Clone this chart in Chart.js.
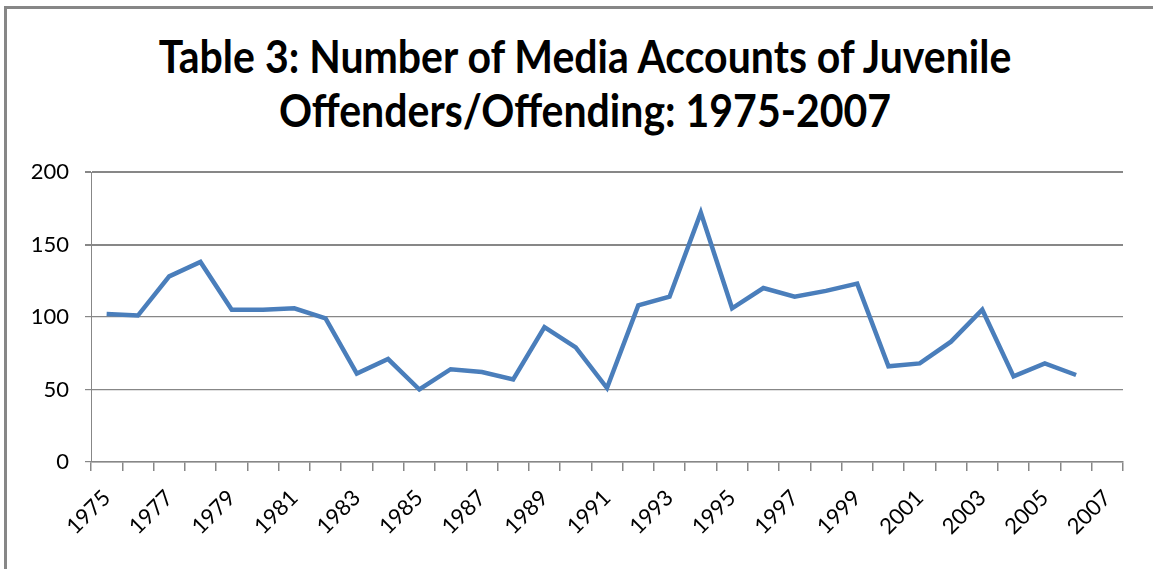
<!DOCTYPE html>
<html>
<head>
<meta charset="utf-8">
<script src="https://cdn.jsdelivr.net/npm/chart.js@4/dist/chart.umd.min.js"></script>
<style>
  html, body { margin: 0; padding: 0; background: #fff; }
  #wrap { position: relative; width: 1153px; height: 569px; overflow: hidden; }
  #frame {
    position: absolute; left: 4px; top: 6px; width: 1200px; height: 600px;
    border-left: 3px solid #878787; border-top: 3px solid #878787;
  }
  #title {
    position: absolute; left: 0; width: 1170px; top: 29px;
    text-align: center; font-family: Lato, sans-serif; font-weight: bold;
    font-size: 41px; line-height: 49px; color: #000;
    transform: scaleY(1.1); transform-origin: top;
  }
  canvas { position: absolute; left: 0; top: 0; }
</style>
</head>
<body>
<div id="wrap">
  <div id="frame"></div>
  <div id="title">Table 3: Number of Media Accounts of Juvenile<br>Offenders/Offending: 1975-2007</div>
  <canvas id="grafica" width="1153" height="569"></canvas>
</div>
<script>
// años (categorías) y conteos
const anios = ['1975', '1976', '1977', '1978', '1979', '1980', '1981', '1982', '1983', '1984',
  '1985', '1986', '1987', '1988', '1989', '1990', '1991', '1992', '1993', '1994',
  '1995', '1996', '1997', '1998', '1999', '2000', '2001', '2002', '2003', '2004',
  '2005', '2006', '2007'];
const cuentas = [102, 101, 128, 138, 105, 105, 106, 99, 61, 71,
  50, 64, 62, 57, 93, 79, 51, 108, 114, 172,
  106, 120, 114, 118, 123, 66, 68, 83, 105, 59,
  68, 60, null];
const ticksY = [0, 50, 100, 150, 200];

const gris = '#878787';

new Chart(document.getElementById('grafica'), {
  type: 'line',
  data: {
    labels: anios,
    datasets: [{
      data: cuentas,
      borderColor: '#4a7ebb',
      borderWidth: 4.5,
      pointRadius: 0,
      tension: 0,
      fill: false
    }]
  },
  options: {
    responsive: false,
    animation: false,
    layout: { padding: { left: 0, right: 30, top: 172, bottom: 0 } },
    plugins: {
      legend: { display: false },
      tooltip: { enabled: false }
    },
    scales: {
      x: {
        offset: true,
        afterFit: s => { s.height = 107; },
        border: { color: gris, width: 1.5 },
        grid: {
          offset: true,
          drawOnChartArea: false,
          drawTicks: true,
          tickLength: 9,
          color: gris,
          lineWidth: 1.5
        },
        ticks: {
          autoSkip: false,
          maxRotation: 45,
          minRotation: 45,
          padding: 14,
          color: '#000',
          font: { family: 'Lato', size: 22 },
          callback: (v, i) => (i % 2 === 0 ? anios[i] : '')
        }
      },
      y: {
        min: ticksY[0],
        max: ticksY[ticksY.length - 1],
        afterFit: s => { s.width = 91; },
        afterBuildTicks: s => { s.ticks = ticksY.map(v => ({ value: v })); },
        border: { color: gris, width: 1 },
        grid: {
          color: gris,
          lineWidth: ctx => (ctx.tick && ctx.tick.value >= 150 ? 2 : 1.2),
          tickLength: 6
        },
        ticks: {
          padding: 16,
          color: '#000',
          font: { family: 'Lato', size: 22 }
        }
      }
    }
  }
});
</script>
</body>
</html>
